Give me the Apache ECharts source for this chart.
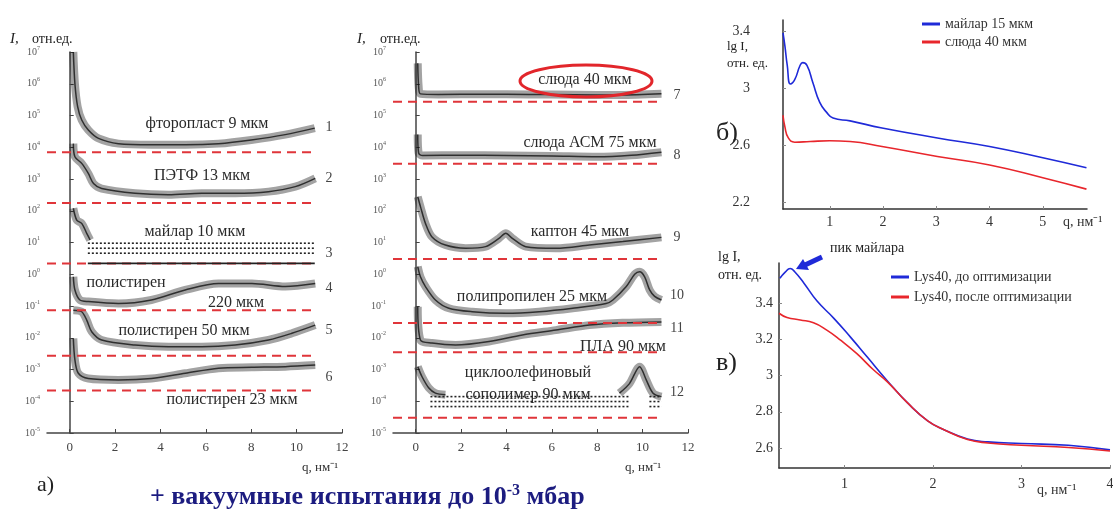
<!DOCTYPE html>
<html>
<head>
<meta charset="utf-8">
<script src="https://cdn.jsdelivr.net/npm/echarts@6/dist/echarts.min.js"></script>
<style>
  html, body { margin: 0; padding: 0; background: #fff; }
  #chart { width: 1113px; height: 511px; }
</style>
</head>
<body>
<div id="chart"></div>
<script>
// ---- а) left panel: curves 1-6, I (отн.ед.) vs q, нм^-1 ----
const ftoroplast9 = [[0.16,1e7],[0.23,1.0e6],[0.35,1.9e5],[0.53,7.2e4],[0.82,3.5e4],[1.27,1.9e4],[2.15,1.3e4],[3.6,1.2e4],[5.1,1.2e4],[6.56,1.3e4],[8.0,1.7e4],[9.5,2.5e4],[10.8,4.0e4]]
const petf13 = [[0.16,1.3e4],[0.23,5.0e3],[0.53,3.1e3],[0.82,1.5e3],[1.05,720],[1.41,500],[2.88,355],[4.35,320],[5.82,355],[7.29,355],[8.76,400],[9.94,575],[10.82,1050]]
const mylar10 = [[0.16,120],[0.31,51],[0.53,40],[0.75,19.5],[0.9,12]]
const mylar10Rows = [9.5, 6.6, 4.6, 2.2]
const mylar10RowSpan = [0.8, 10.8]
const ps220 = [[0.16,0.83],[0.23,0.32],[0.45,0.155],[0.82,0.138],[2.15,0.12],[3.6,0.155],[5.09,0.32],[6.56,0.51],[8.03,0.51],[9.5,0.41],[10.82,0.51]]
const ps50 = [[0.16,0.074],[0.53,0.066],[0.75,0.036],[0.97,0.0155],[1.41,0.0085],[2.88,0.0059],[4.35,0.0052],[5.82,0.0052],[7.29,0.0059],[8.76,0.0085],[9.79,0.0138],[10.82,0.025]]
const ps23 = [[0.16,0.0095],[0.23,0.002],[0.38,7.6e-4],[0.82,5.2e-4],[2.15,4.7e-4],[3.6,5.2e-4],[5.09,7.6e-4],[6.56,1.1e-3],[8.03,1.17e-3],[9.5,1.23e-3],[10.82,1.38e-3]]
const levelsA = [7e3, 175, 2.2, 0.074, 0.0027, 2.2e-4]

// ---- middle panel: curves 7-12 ----
const mica40 = [[0.09,4.4e6],[0.13,8.1e5],[0.21,4.8e5],[1.0,4.6e5],[3,4.7e5],[5,4.6e5],[7,4.5e5],[9,4.4e5],[10.83,4.8e5]]
const micaAsm75 = [[0.09,2.5e4],[0.13,6.5e3],[0.3,5.5e3],[2,5.6e3],[4,5.5e3],[6,5.3e3],[8,5.0e3],[9.5,5.6e3],[10.83,7.0e3]]
const kapton45 = [[0.09,275],[0.21,135],[0.43,40],[0.72,15],[1.31,8.3],[2.2,6.6],[3.08,7.4],[3.67,13.5],[3.97,19.5],[4.26,13.5],[4.85,7.4],[6.18,6.6],[7.65,8.3],[9.13,10.7],[10.83,14.5]]
const pp25 = [[0.09,1.74],[0.21,0.83],[0.43,0.41],[0.87,0.155],[1.46,0.085],[2.49,0.066],[3.97,0.059],[5.44,0.066],[6.92,0.085],[8.39,0.12],[8.69,0.155],[9.28,0.41],[9.65,1.0],[9.87,1.2],[10.09,0.83],[10.31,0.32],[10.53,0.2],[10.83,0.155]]
const pla90 = [[0.09,0.095],[0.21,0.0085],[0.72,0.0068],[1.76,0.0059],[3.23,0.0076],[4.7,0.0123],[6.18,0.0174],[7.65,0.025],[9.13,0.0295],[10.83,0.0316]]
const coc90Start = [[0.09,1.23e-3],[0.28,5.9e-4],[0.58,2.6e-4],[0.87,1.8e-4],[1.31,1.6e-4]]
const coc90Peak = [[8.98,1.8e-4],[9.42,3.6e-4],[9.87,1.23e-3],[10.16,4.7e-4],[10.46,1.8e-4],[10.83,1.4e-4]]
const coc90Rows = [1.4e-4, 9.8e-5, 6.8e-5]
const coc90RowSpans = [[0.65, 9.42], [10.3, 10.83]]
const levelsB = [2.7e5, 3e3, 3, 0.029, 0.0035, 3e-5]
const dashEnd = 10.82
const decades = [1e-5, 1e-4, 1e-3, 1e-2, 1e-1, 1, 10, 100, 1e3, 1e4, 1e5, 1e6, 1e7]

// ---- б) lg I vs q ----
const mylar15 = [[0.12,3.39],[0.155,3.30],[0.2,3.16],[0.26,3.03],[0.34,3.06],[0.44,3.16],[0.49,3.18],[0.57,3.16],[0.68,3.04],[0.81,2.90],[0.94,2.83],[1.06,2.79],[1.38,2.77],[1.98,2.72],[3.02,2.65],[4.0,2.59],[5.0,2.51],[5.82,2.44]]
const mica40lg = [[0.12,2.81],[0.155,2.73],[0.22,2.65],[0.34,2.62],[0.63,2.625],[1.0,2.63],[1.38,2.625],[1.98,2.59],[3.02,2.52],[4.0,2.46],[5.0,2.37],[5.82,2.29]]

// ---- в) Lys40 before / after ----
const lysBefore = [[0.27,3.536],[0.33,3.57],[0.386,3.59],[0.44,3.57],[0.54,3.51],[0.69,3.41],[0.88,3.315],[1.07,3.21],[1.26,3.10],[1.485,2.97],[1.71,2.85],[1.94,2.75],[2.13,2.70],[2.39,2.65],[2.62,2.634],[3.0,2.625],[3.53,2.615],[4.0,2.59]]
const lysAfter = [[0.26,3.343],[0.35,3.32],[0.5,3.306],[0.65,3.29],[0.8,3.25],[0.955,3.195],[1.14,3.12],[1.33,3.03],[1.485,2.965],[1.71,2.85],[1.94,2.75],[2.13,2.70],[2.39,2.647],[2.62,2.628],[3.0,2.615],[3.53,2.603],[4.0,2.584]]

const SERIF = 'Liberation Serif'
const BLUE = '#1f2ad8'
const RED = '#e8262c'
const DASH_RED = '#e0353a'

var chart = echarts.init(document.getElementById('chart'))

// noisy scatter cloud drawn as a grey band around the read-off curve
function band(data, idx) {
  var base = { type: 'line', xAxisIndex: idx, yAxisIndex: idx, data: data, smooth: 0.3, symbol: 'none', silent: true }
  return [
    Object.assign({}, base, { lineStyle: { color: '#1a1a1a', width: 8, opacity: 0.4 }, z: 2 }),
    Object.assign({}, base, { lineStyle: { color: '#111', width: 1.5, opacity: 0.8 }, z: 3 })
  ]
}
function dashed(v, idx) {
  return { type: 'line', xAxisIndex: idx, yAxisIndex: idx, data: [[-1, v], [dashEnd, v]], symbol: 'none', silent: true,
    lineStyle: { color: DASH_RED, width: 2, type: [9, 6] }, z: 4 }
}
function row(v, span, idx, solid) {
  return { type: 'line', xAxisIndex: idx, yAxisIndex: idx, data: [[span[0], v], [span[1], v]], symbol: 'none', silent: true,
    lineStyle: { color: '#222', width: 1.6, type: solid ? 'solid' : [2, 2] }, z: 5 }
}

var series = []
;[ftoroplast9, petf13, mylar10, ps220, ps50, ps23].forEach(d => series.push(...band(d, 0)))
;[mica40, micaAsm75, kapton45, pp25, pla90, coc90Start, coc90Peak].forEach(d => series.push(...band(d, 1)))
levelsA.forEach(v => series.push(dashed(v, 0)))
levelsB.forEach(v => series.push(dashed(v, 1)))
mylar10Rows.forEach((v, i) => series.push(row(v, mylar10RowSpan, 0, i === mylar10Rows.length - 1)))
coc90Rows.forEach(v => coc90RowSpans.forEach(s => series.push(row(v, s, 1, false))))

series.push({ name: 'майлар 15 мкм', type: 'line', xAxisIndex: 2, yAxisIndex: 2, data: mylar15, smooth: true, symbol: 'none', lineStyle: { color: BLUE, width: 1.6 }, itemStyle: { color: BLUE } })
series.push({ name: 'слюда 40 мкм', type: 'line', xAxisIndex: 2, yAxisIndex: 2, data: mica40lg, smooth: true, symbol: 'none', lineStyle: { color: RED, width: 1.6 }, itemStyle: { color: RED } })
series.push({ name: 'Lys40, до оптимизации', type: 'line', xAxisIndex: 3, yAxisIndex: 3, data: lysBefore, smooth: true, symbol: 'none', lineStyle: { color: BLUE, width: 1.6 }, itemStyle: { color: BLUE } })
series.push({ name: 'Lys40, после оптимизации', type: 'line', xAxisIndex: 3, yAxisIndex: 3, data: lysAfter, smooth: true, symbol: 'none', lineStyle: { color: RED, width: 1.6 }, itemStyle: { color: RED } })

function logAxis(idx) {
  return {
    gridIndex: idx, type: 'log', logBase: 10, min: 1e-5, max: 1e7,
    axisLine: { show: true, lineStyle: { color: '#444', width: 1.5 } },
    axisTick: { show: true, inside: true, length: 4, customValues: decades, lineStyle: { color: '#444' } },
    splitLine: { show: false },
    axisLabel: {
      customValues: decades, margin: 7, color: '#555',
      formatter: v => '{b|10}{s|' + Math.round(Math.log10(v)) + '}',
      rich: { b: { fontFamily: SERIF, fontSize: 10, color: '#555', lineHeight: 14 },
              s: { fontFamily: SERIF, fontSize: 6, color: '#555', verticalAlign: 'top' } }
    }
  }
}
function qAxisA(idx) {
  var ticks = [0, 2, 4, 6, 8, 10, 12]
  return {
    gridIndex: idx, type: 'value', min: -1, max: 12,
    axisLine: { show: true, onZero: false, lineStyle: { color: '#444', width: 1.5 } },
    axisTick: { show: true, inside: true, length: 4, customValues: ticks, lineStyle: { color: '#444' } },
    splitLine: { show: false },
    axisLabel: { customValues: ticks, fontFamily: SERIF, fontSize: 13, color: '#444', margin: 8 }
  }
}
function linAxis(idx, min, max, ticks, margin) {
  return {
    gridIndex: idx, type: 'value', min: min, max: max,
    axisLine: { show: true, onZero: false, lineStyle: { color: '#333', width: 1.5 } },
    axisTick: { show: true, inside: true, length: 3, customValues: ticks, lineStyle: { color: '#888' } },
    splitLine: { show: false },
    axisLabel: { customValues: ticks, fontFamily: SERIF, fontSize: 14, color: '#333', margin: margin,
      formatter: v => String(+v.toFixed(1)) }
  }
}

function txt(text, x, y, size, opts) {
  return Object.assign({ type: 'text', x: x, y: y, silent: true, z: 20,
    style: Object.assign({ text: text, fontFamily: SERIF, fontSize: size, fill: '#2a2a2a', align: 'center', verticalAlign: 'middle' }, opts || {}) })
}

var graphics = [
  // axis titles of а)
  txt('I,', 10, 39, 15, { align: 'left', fontStyle: 'italic', fill: '#222' }),
  txt('отн.ед.', 32, 39, 14, { align: 'left', fill: '#222' }),
  txt('I,', 357, 39, 15, { align: 'left', fontStyle: 'italic', fill: '#222' }),
  txt('отн.ед.', 380, 39, 14, { align: 'left', fill: '#222' }),
  txt('q, нм⁻¹', 320, 468, 13, { fill: '#333' }),
  txt('q, нм⁻¹', 643, 468, 13, { fill: '#333' }),
  // curve names
  txt('фторопласт 9 мкм', 207, 124, 16),
  txt('ПЭТФ 13 мкм', 202, 176, 16),
  txt('майлар 10 мкм', 195, 232, 16),
  txt('полистирен', 126, 283, 16),
  txt('220 мкм', 236, 303, 16),
  txt('полистирен 50 мкм', 184, 331, 16),
  txt('полистирен 23 мкм', 232, 400, 16),
  txt('слюда 40 мкм', 585, 80, 16),
  txt('слюда АСМ 75 мкм', 590, 143, 16),
  txt('каптон 45 мкм', 580, 232, 16),
  txt('полипропилен 25 мкм', 532, 297, 16),
  txt('ПЛА 90 мкм', 623, 347, 16),
  txt('циклоолефиновый', 528, 373, 16),
  txt('сополимер 90 мкм', 528, 395, 16),
  { type: 'ellipse', silent: true, z: 19, shape: { cx: 586, cy: 81, rx: 66, ry: 16 },
    style: { fill: 'none', stroke: '#e2262b', lineWidth: 3 } },
  // curve numbers
  txt('1', 329, 127, 14, { fill: '#444' }), txt('2', 329, 178, 14, { fill: '#444' }),
  txt('3', 329, 253, 14, { fill: '#444' }), txt('4', 329, 288, 14, { fill: '#444' }),
  txt('5', 329, 330, 14, { fill: '#444' }), txt('6', 329, 377, 14, { fill: '#444' }),
  txt('7', 677, 95, 14, { fill: '#444' }), txt('8', 677, 155, 14, { fill: '#444' }),
  txt('9', 677, 237, 14, { fill: '#444' }), txt('10', 677, 295, 14, { fill: '#444' }),
  txt('11', 677, 328, 14, { fill: '#444' }), txt('12', 677, 392, 14, { fill: '#444' }),
  txt('а)', 37, 485, 22, { align: 'left', fill: '#222' }),
  { type: 'text', x: 150, y: 497, silent: true, z: 20,
    style: { text: '{m|+ вакуумные испытания до 10}{s|-3}{m| мбар}', align: 'left', verticalAlign: 'middle',
      rich: { m: { fontFamily: SERIF, fontSize: 26, fontWeight: 'bold', fill: '#1c1c80', lineHeight: 28 },
              s: { fontFamily: SERIF, fontSize: 16, fontWeight: 'bold', fill: '#1c1c80', verticalAlign: 'top' } } } },
  // б)
  txt('lg I,', 727, 47, 13, { align: 'left', fill: '#222' }),
  txt('отн. ед.', 727, 64, 13, { align: 'left', fill: '#222' }),
  txt('б)', 716, 133, 26, { align: 'left', fill: '#222' }),
  txt('q, нм⁻¹', 1063, 222, 14, { align: 'left', fill: '#333' }),
  // в)
  txt('lg I,', 718, 257, 14, { align: 'left', fill: '#222' }),
  txt('отн. ед.', 718, 275, 14, { align: 'left', fill: '#222' }),
  txt('в)', 716, 363, 26, { align: 'left', fill: '#222' }),
  txt('q, нм⁻¹', 1037, 490, 14, { align: 'left', fill: '#333' }),
  txt('пик майлара', 830, 248, 14, { align: 'left', fill: '#222' }),
  { type: 'line', silent: true, z: 20, shape: { x1: 822, y1: 257, x2: 805, y2: 265 },
    style: { stroke: BLUE, lineWidth: 5 } },
  { type: 'polygon', silent: true, z: 20, shape: { points: [[796, 269], [803, 259], [809, 270]] },
    style: { fill: BLUE } }
]

var option = {
  animation: false,
  backgroundColor: '#fff',
  grid: [
    { left: 47, top: 52, width: 295, height: 381, containLabel: false, outerBoundsMode: 'none' },
    { left: 393, top: 52, width: 295, height: 381, containLabel: false, outerBoundsMode: 'none' },
    { left: 783, top: 20, width: 304, height: 189, containLabel: false, outerBoundsMode: 'none' },
    { left: 779, top: 263, width: 331, height: 205, containLabel: false, outerBoundsMode: 'none' }
  ],
  xAxis: [
    qAxisA(0), qAxisA(1),
    linAxis(2, 0.12, 5.83, [1, 2, 3, 4, 5], 6),
    linAxis(3, 0.26, 4.0, [1, 2, 3, 4], 9)
  ],
  yAxis: [
    logAxis(0), logAxis(1),
    linAxis(2, 2.15, 3.48, [2.2, 2.6, 3, 3.4], 33),
    linAxis(3, 2.49, 3.62, [2.6, 2.8, 3, 3.2, 3.4], 6)
  ],
  legend: [
    { data: ['майлар 15 мкм', 'слюда 40 мкм'], left: 917, top: 12, orient: 'vertical', icon: 'rect',
      itemWidth: 18, itemHeight: 3, itemGap: 4, textStyle: { fontFamily: SERIF, fontSize: 14, color: '#333' } },
    { data: ['Lys40, до оптимизации', 'Lys40, после оптимизации'], left: 886, top: 265, orient: 'vertical', icon: 'rect',
      itemWidth: 18, itemHeight: 3, itemGap: 6, textStyle: { fontFamily: SERIF, fontSize: 14, color: '#333' } }
  ],
  graphic: graphics,
  series: series
}
chart.setOption(option)
</script>
</body>
</html>
